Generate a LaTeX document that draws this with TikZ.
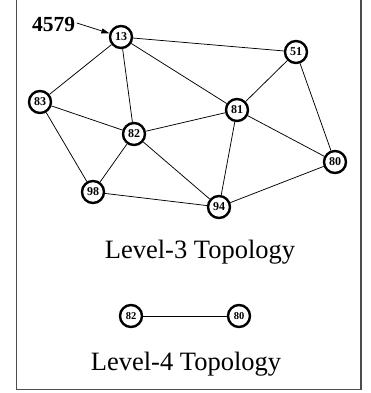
\documentclass[tikz,border=0pt]{standalone}
\usepackage{fontspec}
\setmainfont{Liberation Serif}
\usetikzlibrary{arrows.meta}
\begin{document}
\begin{tikzpicture}[x=1pt,y=-1pt,
  vtx/.style={circle,draw=black,line width=2.4pt,fill=white,minimum size=22pt,inner sep=0pt,font=\fontsize{12}{12}\selectfont\bfseries},
  vtxs/.style={vtx,font=\fontsize{10.5}{10.5}\selectfont\bfseries},
  link/.style={draw=black,line width=0.75pt},
  captxt/.style={font=\fontsize{26.5}{26.5}\selectfont,anchor=base,inner sep=0pt}]
\useasboundingbox (0,0) rectangle (370,393);
\draw[line width=1.5pt,draw=black!70] (16.5,-5) -- (16.5,389.5) -- (361,389.5) -- (361,-5);
% level-3 nodes
\node[vtx] (n13) at (121,37) {13};
\node[vtx] (n51) at (296,52) {51};
\node[vtx] (n83) at (40,102) {83};
\node[vtx] (n81) at (237,110) {81};
\node[vtx] (n82) at (134,134) {82};
\node[vtx] (n80) at (335,162) {80};
\node[vtx] (n98) at (93,192) {98};
\node[vtx] (n94) at (219,207) {94};
\foreach \a/\b in {n13/n51,n13/n83,n13/n82,n13/n81,n51/n81,n51/n80,n83/n82,n83/n98,n82/n81,n82/n98,n82/n94,n81/n94,n81/n80,n98/n94,n94/n80}
  \draw[link] (\a) -- (\b);
% label 4579
\node[font=\fontsize{21.5}{21.5}\selectfont\bfseries,anchor=base,inner sep=0pt] (lab) at (53.5,32) {4579};
\coordinate (ls) at ([xshift=1.5pt,yshift=2pt]lab.east);
\draw[line width=0.75pt,-{Triangle[length=8pt,width=5pt]}] (ls) -- (n13);
% captions
\node[captxt] (c3) at (200,258) {Level-3 Topology};
% level-4
\node[vtxs] (m82) at (131,316) {82};
\node[vtxs] (m80) at (239,316) {80};
\draw[link] (m82) -- (m80);
\node[captxt] (c4) at (186,370) {Level-4 Topology};
\end{tikzpicture}
\end{document}
